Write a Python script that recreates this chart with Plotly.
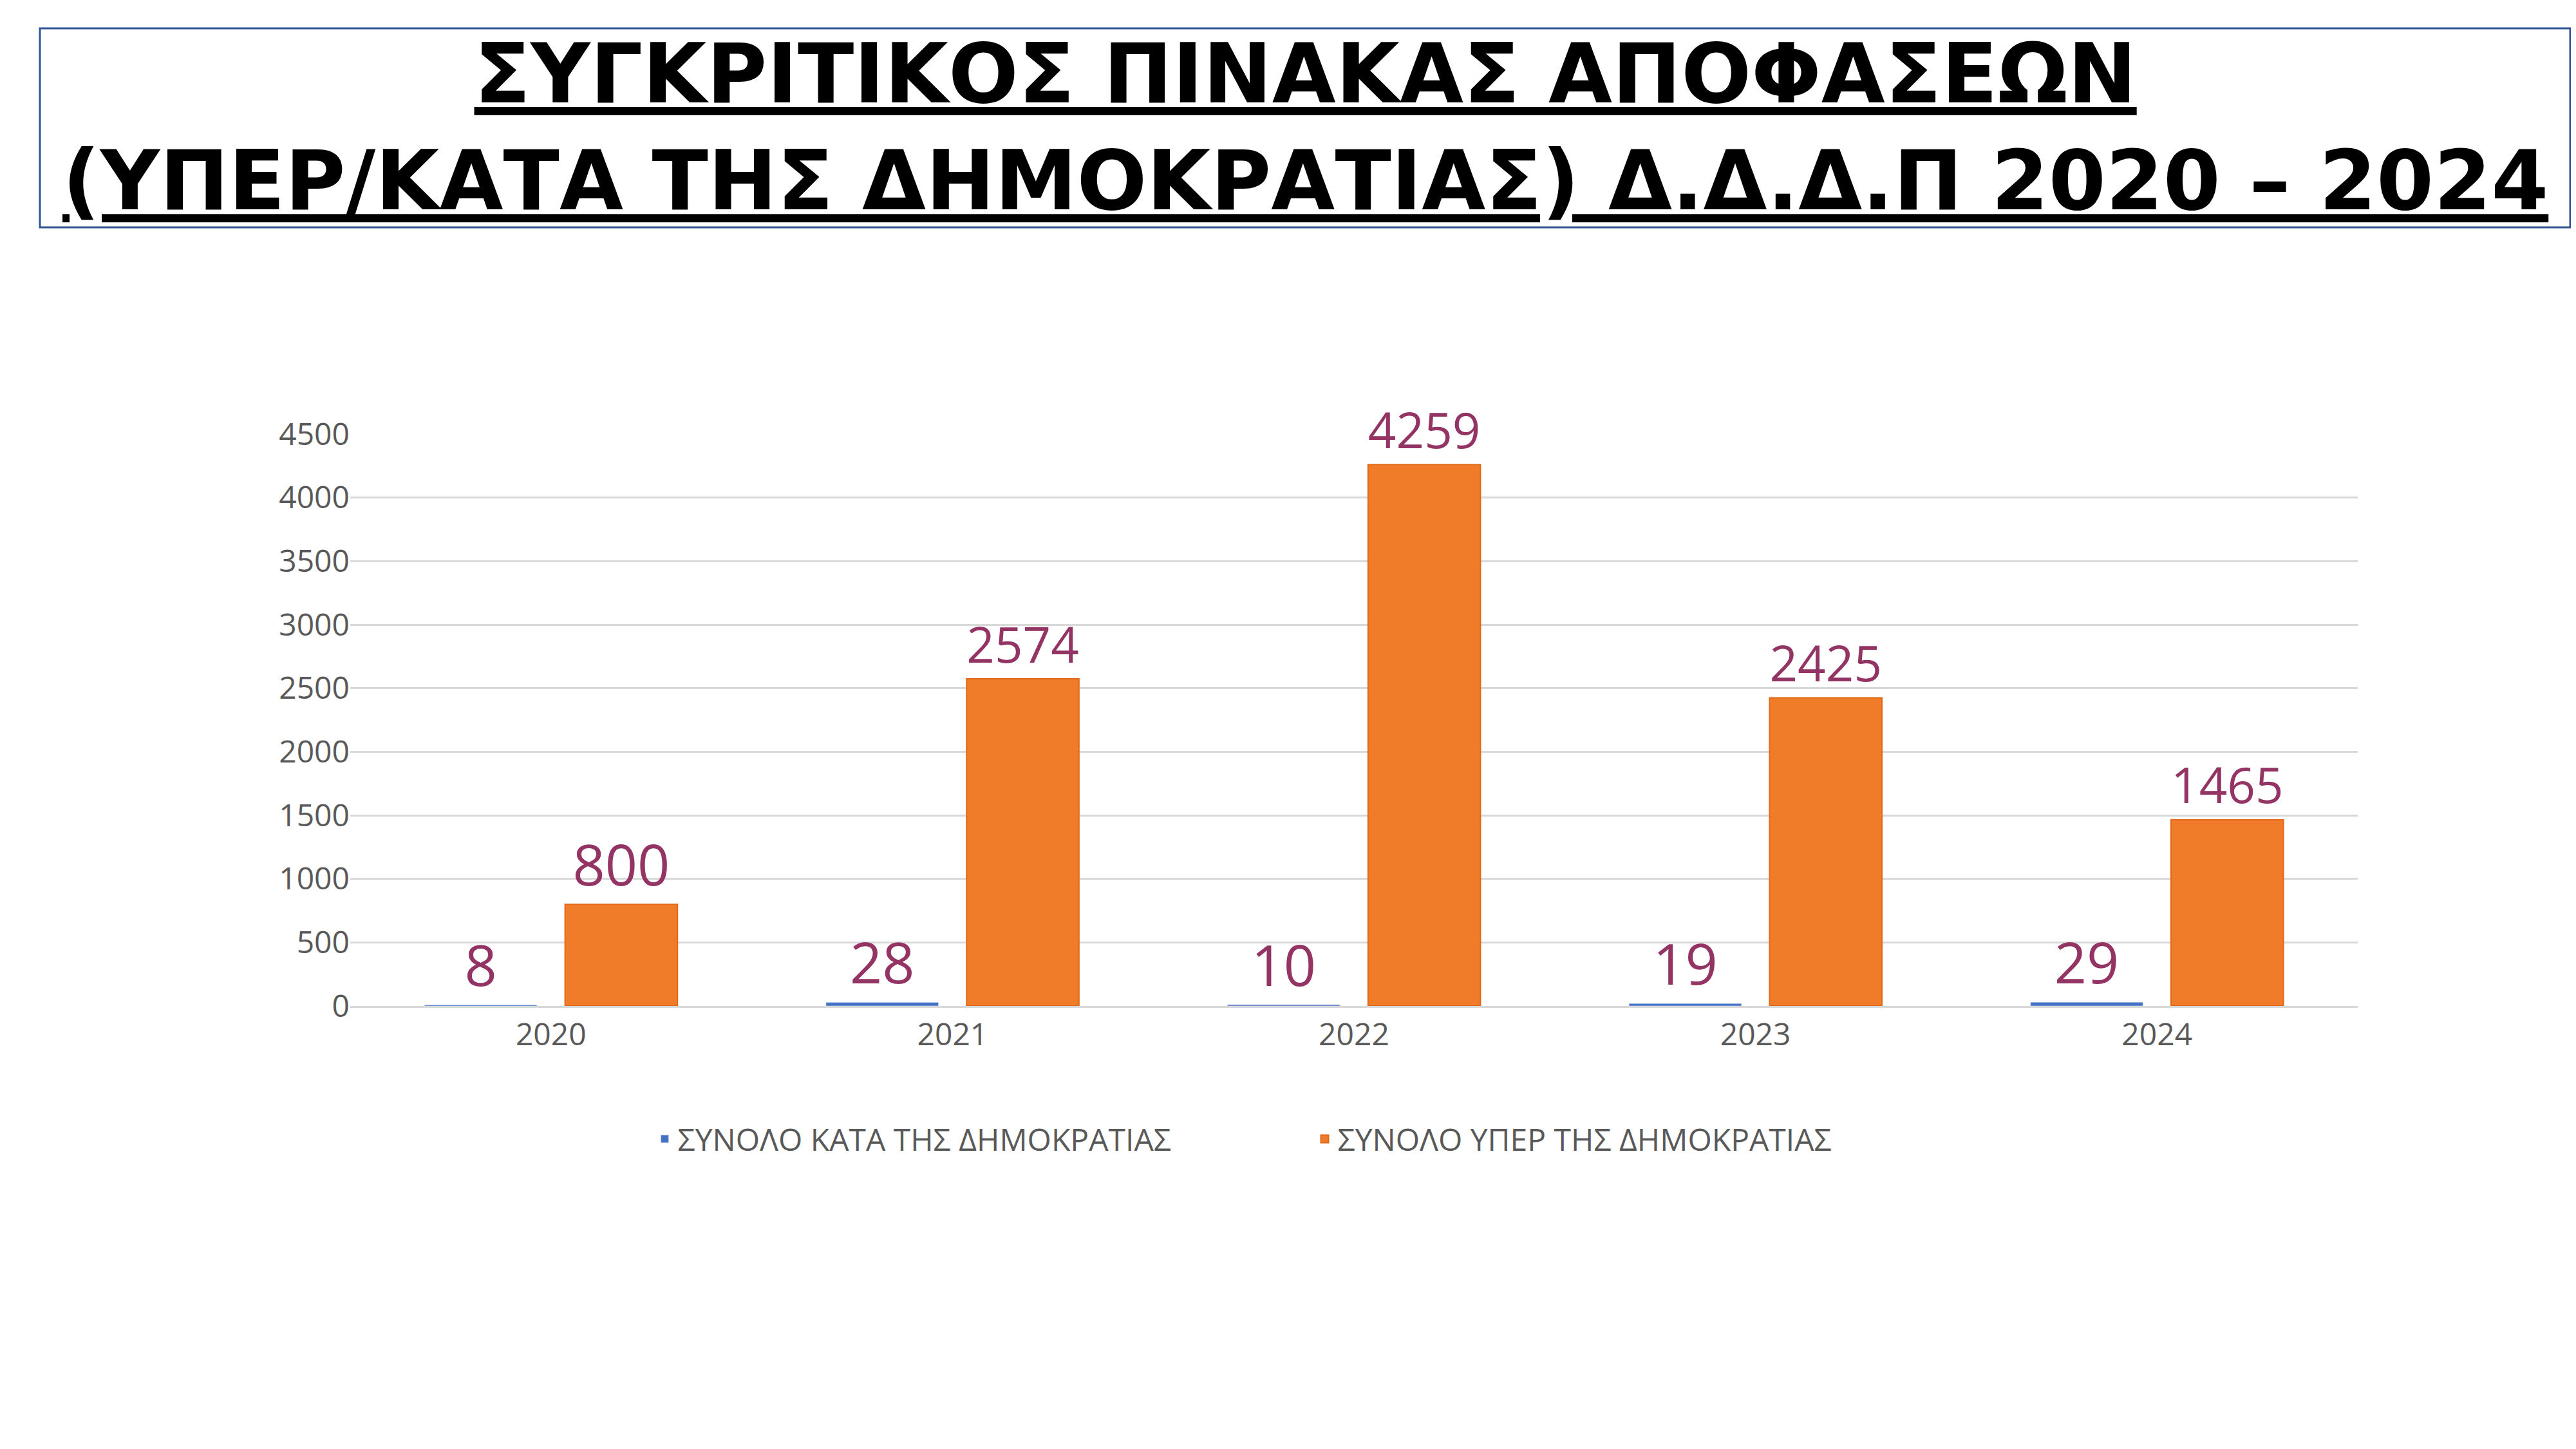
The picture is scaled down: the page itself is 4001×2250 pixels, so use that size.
import plotly.graph_objects as go

years = ["2020", "2021", "2022", "2023", "2024"]
kata = [8, 28, 10, 19, 29]
yper = [800, 2574, 4259, 2425, 1465]
tick_vals = [0, 500, 1000, 1500, 2000, 2500, 3000, 3500, 4000, 4500]

lab_color = "#943464"
fig = go.Figure()
fig.add_bar(x=years, y=kata, name="ΣΥΝΟΛΟ ΚΑΤΑ ΤΗΣ ΔΗΜΟΚΡΑΤΙΑΣ",
            marker_color="#4472C4", text=kata, textposition="outside",
            textfont=dict(size=88, color=lab_color, family="Open Sans"),
            cliponaxis=False)
fig.add_bar(x=years, y=yper, name="ΣΥΝΟΛΟ ΥΠΕΡ ΤΗΣ ΔΗΜΟΚΡΑΤΙΑΣ",
            marker=dict(color="#F07C2A", line=dict(color="#E06A1A", width=2)),
            text=yper, textposition="outside",
            textfont=dict(size=88, color=lab_color, family="Open Sans"),
            cliponaxis=False)

fig.update_layout(
    width=4001, height=2250, paper_bgcolor="white", plot_bgcolor="white",
    margin=dict(l=536, r=347, t=666, b=696),
    barmode="group", bargap=0.3, bargroupgap=0.2,
    font=dict(family="Open Sans", color="#595959", size=48),
    uniformtext=dict(minsize=10),
    xaxis=dict(showline=True, linecolor="#D9D9D9", linewidth=3, ticks="",
               tickfont=dict(size=48, color="#595959")),
    yaxis=dict(range=[0, 4500], tickvals=tick_vals, showgrid=True,
               gridcolor="#D9D9D9", gridwidth=3, zeroline=False,
               tickfont=dict(size=48, color="#595959"), ticksuffix="  "),
    legend=dict(orientation="h", x=0.479, xanchor="center", y=-0.19, yanchor="top",
                font=dict(size=48, color="#595959"), itemwidth=30,
                entrywidth=980),
    showlegend=True,
)
fig.add_shape(type="rect", xref="paper", yref="paper",
              x0=(54-536)/3118, x1=(3984-536)/3118,
              y0=(2250-696-345)/888, y1=(2250-696-36)/888,
              line=dict(color="#2F5597", width=3))
fig.add_annotation(xref="paper", yref="paper",
                   x=(2019-536)/3118, y=(2250-696-190)/888,
                   text="<b><u>ΣΥΓΚΡΙΤΙΚΟΣ ΠΙΝΑΚΑΣ ΑΠΟΦΑΣΕΩΝ</u></b><br><b><u>(ΥΠΕΡ/ΚΑΤΑ ΤΗΣ ΔΗΜΟΚΡΑΤΙΑΣ) Δ.Δ.Δ.Π 2020 – 2024</u></b>",
                   showarrow=False, font=dict(size=128, color="black", family="DejaVu Sans"),
                   align="center", xanchor="center", yanchor="middle")
fig.write_html("out.html")
